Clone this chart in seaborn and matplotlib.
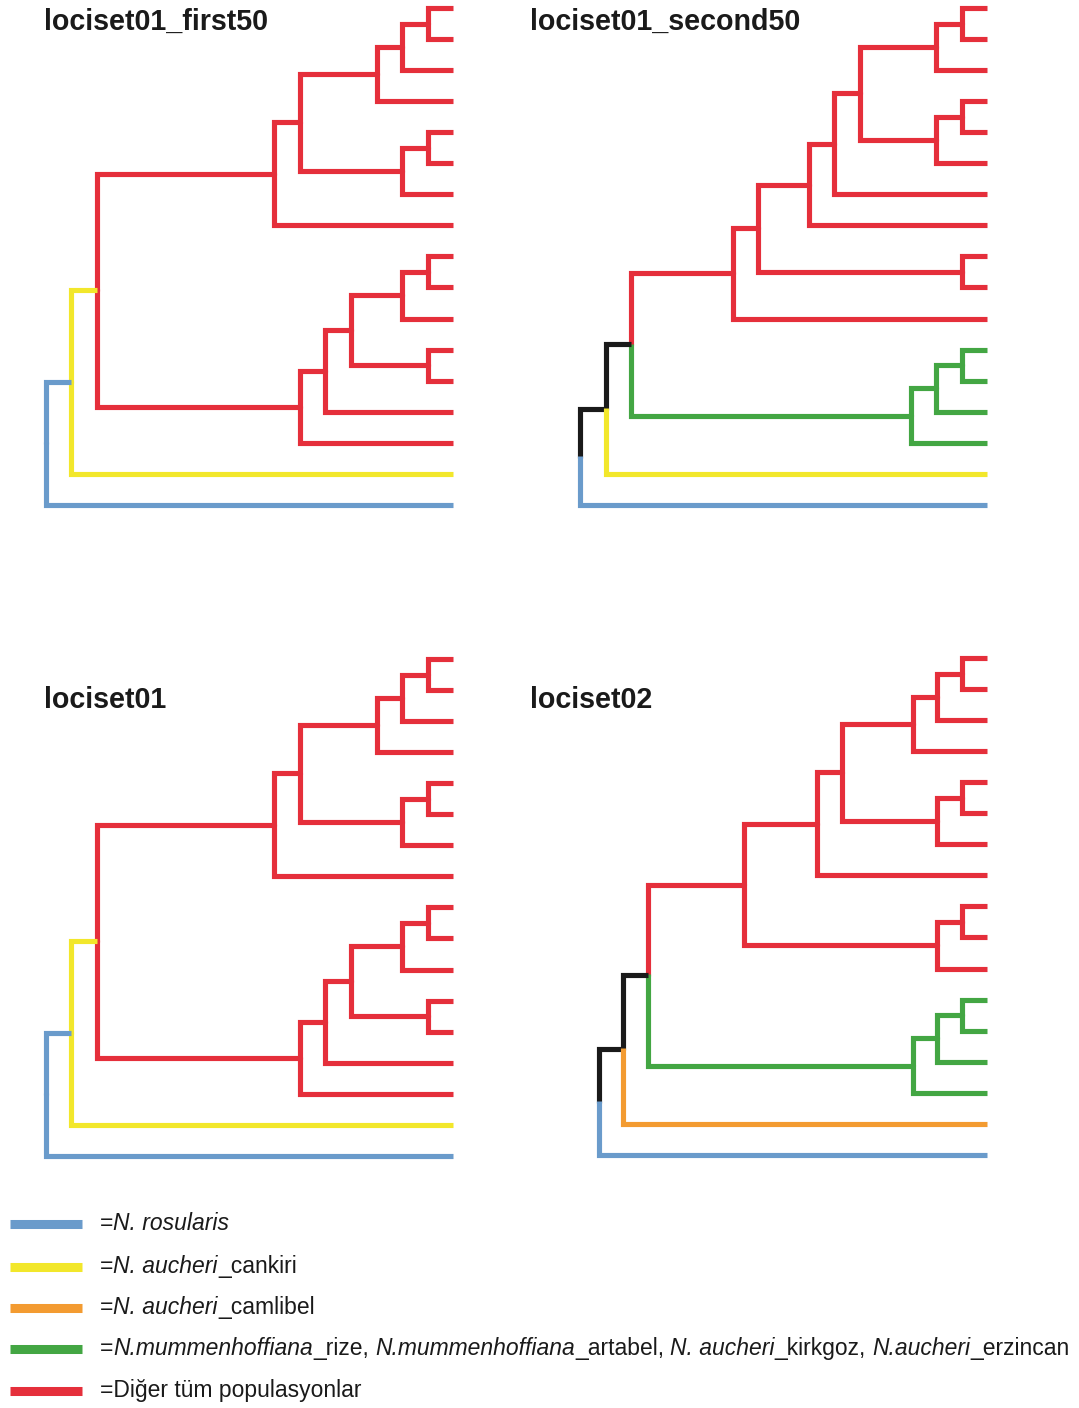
import matplotlib
matplotlib.use("Agg")
import matplotlib.pyplot as plt
import pandas as pd
import seaborn as sns

sns.set_theme(style="white")
plt.rcParams["font.family"] = ["Liberation Sans", "DejaVu Sans"]
plt.rcParams["lines.solid_joinstyle"] = "miter"
plt.rcParams["lines.solid_capstyle"] = "butt"

# ---- colour groups -------------------------------------------------------
group_keys = ["ros", "can", "cam", "mum", "oth", "mix"]
group_colors = ["#6A9BCB", "#F2E72B", "#F39B31", "#43A643", "#E52F3B", "#1A1A1A"]
# legend labels as (text, is_italic) runs
group_labels = [
    [("=", False), ("N. rosularis", True)],
    [("=", False), ("N. aucheri", True), ("_cankiri", False)],
    [("=", False), ("N. aucheri", True), ("_camlibel", False)],
    [("=", False), ("N.mummenhoffiana", True), ("_rize, ", False),
     ("N.mummenhoffiana", True), ("_artabel, ", False),
     ("N. aucheri", True), ("_kirkgoz, ", False),
     ("N.aucheri", True), ("_erzincan", False)],
    [("=Diğer tüm populasyonlar", False)],
]
palette = dict(zip(group_keys, group_colors))

# ---- trees: 17 leaves (ids 0-16), internal nodes get ids 17.. in merge order
# each merge: (child_a, child_b, node depth from root)
first50_tip = 407
first50_merges = [
    (0, 1, 382), (17, 2, 356), (18, 3, 331), (4, 5, 382), (20, 6, 356),
    (19, 21, 254), (22, 7, 228), (8, 9, 382), (24, 10, 356), (11, 12, 382),
    (25, 26, 305), (27, 13, 279), (28, 14, 254), (23, 29, 51), (30, 15, 25),
    (31, 16, 0),
]
first50_groups = [
    "oth", "oth", "oth", "oth", "oth", "oth", "oth", "oth", "oth", "oth",
    "oth", "oth", "oth", "oth", "oth", "can", "ros",
    "oth", "oth", "oth", "oth", "oth", "oth", "oth", "oth", "oth", "oth",
    "oth", "oth", "oth", "can", "ros",
]

second50_tip = 407
second50_merges = [
    (0, 1, 382), (17, 2, 356), (3, 4, 382), (19, 5, 356), (18, 20, 280),
    (21, 6, 254), (22, 7, 229), (8, 9, 382), (23, 24, 178), (25, 10, 153),
    (11, 12, 382), (27, 13, 356), (28, 14, 331), (26, 29, 51), (30, 15, 26),
    (31, 16, 0),
]
second50_groups = [
    "oth", "oth", "oth", "oth", "oth", "oth", "oth", "oth", "oth", "oth",
    "oth", "mum", "mum", "mum", "mum", "can", "ros",
    "oth", "oth", "oth", "oth", "oth", "oth", "oth", "oth", "oth", "oth",
    "mum", "mum", "mum", "mix", "mix",
]

lociset01_tip = 407
lociset01_merges = [
    (0, 1, 382), (17, 2, 356), (18, 3, 331), (4, 5, 382), (20, 6, 356),
    (19, 21, 254), (22, 7, 228), (8, 9, 382), (24, 10, 356), (11, 12, 382),
    (25, 26, 305), (27, 13, 279), (28, 14, 254), (23, 29, 51), (30, 15, 25),
    (31, 16, 0),
]
lociset01_groups = [
    "oth", "oth", "oth", "oth", "oth", "oth", "oth", "oth", "oth", "oth",
    "oth", "oth", "oth", "oth", "oth", "can", "ros",
    "oth", "oth", "oth", "oth", "oth", "oth", "oth", "oth", "oth", "oth",
    "oth", "oth", "oth", "can", "ros",
]

lociset02_tip = 388
lociset02_merges = [
    (0, 1, 363), (17, 2, 338), (18, 3, 314), (4, 5, 363), (20, 6, 338),
    (19, 21, 243), (22, 7, 218), (8, 9, 363), (24, 10, 338), (23, 25, 145),
    (11, 12, 363), (27, 13, 338), (28, 14, 314), (26, 29, 49), (30, 15, 24),
    (31, 16, 0),
]
lociset02_groups = [
    "oth", "oth", "oth", "oth", "oth", "oth", "oth", "oth", "oth", "oth",
    "oth", "mum", "mum", "mum", "mum", "cam", "ros",
    "oth", "oth", "oth", "oth", "oth", "oth", "oth", "oth", "oth", "oth",
    "mum", "mum", "mum", "mix", "mix",
]

N_LEAVES = 17
SEAM = 0.03  # small overlap so the two halves of a node bar join cleanly


def branch_table(merges, groups, tip):
    """Elbow segments: each child branch runs from the parent's node height
    along the parent's vertical bar and then across to the child."""
    xs = {i: tip for i in range(N_LEAVES)}
    ys = {i: float(i) for i in range(N_LEAVES)}
    rows = []
    bid = 0
    for k, (a, b, depth) in enumerate(merges):
        node = N_LEAVES + k
        ys[node] = (ys[a] + ys[b]) / 2.0
        xs[node] = depth
        for c, sign in ((a, 1), (b, -1)):
            pts = [(depth, ys[node] + sign * SEAM), (depth, ys[c]), (xs[c], ys[c])]
            for order, (px, py) in enumerate(pts):
                rows.append({"branch": bid, "order": order, "x": px, "y": py,
                             "group": groups[c]})
            bid += 1
    return pd.DataFrame(rows)


W, H = 1079, 1408
fig = plt.figure(figsize=(W / 100, H / 100), dpi=100)
fig.patch.set_facecolor("white")

SP = 31.05  # vertical spacing of leaves
panels = [
    ("lociset01_first50", first50_merges, first50_groups, first50_tip, 46, 8, 44, 30),
    ("lociset01_second50", second50_merges, second50_groups, second50_tip, 580, 8, 530, 30),
    ("lociset01", lociset01_merges, lociset01_groups, lociset01_tip, 46, 659, 44, 708),
    ("lociset02", lociset02_merges, lociset02_groups, lociset02_tip, 599, 658, 530, 708),
]

for title, merges, groups, tip, root_px, top_px, tx, ty in panels:
    top = top_px - 0.5 * SP
    ax = fig.add_axes([root_px / W, 1 - (top + 17 * SP) / H, tip / W, 17 * SP / H])
    df = branch_table(merges, groups, tip)
    sns.lineplot(data=df, x="x", y="y", units="branch", hue="group",
                 palette=palette, estimator=None, sort=False, legend=False,
                 linewidth=3.7, ax=ax)
    for ln in ax.get_lines():
        ln.set_clip_on(False)
        ln.set_solid_joinstyle("miter")
        ln.set_solid_capstyle("butt")
    ax.set_xlim(0, tip)
    ax.set_ylim(16.5, -0.5)
    ax.axis("off")
    fig.text(tx / W, 1 - ty / H, title, ha="left", va="baseline",
             fontsize=20.6, fontweight="bold", color="#1A1A1A")

# ---- legend ---------------------------------------------------------------
leg = fig.add_axes([0, 0, 1, 213 / H])
leg.set_xlim(0, W)
leg.set_ylim(1408, 1195)
leg.axis("off")
renderer = fig.canvas.get_renderer()
LEG_FS = 16.45


def run_advance(text, style):
    """Advance width (px) of a text run, spaces included."""
    probe = fig.text(0, 0, "|" + text + "|", fontsize=LEG_FS, style=style)
    bars = fig.text(0, 0, "||", fontsize=LEG_FS, style=style)
    w = probe.get_window_extent(renderer).width - bars.get_window_extent(renderer).width
    probe.remove()
    bars.remove()
    return w


legend_rows = [1224, 1267, 1308, 1349, 1391]
for y, key, runs in zip(legend_rows, group_keys[:5], group_labels):
    leg.plot([10, 82], [y, y], color=palette[key], linewidth=6.5,
             solid_capstyle="butt", clip_on=False)
    x = 100.0
    for text, italic in runs:
        style = "italic" if italic else "normal"
        leg.text(x, y + 6, text, ha="left", va="baseline", fontsize=LEG_FS,
                 style=style, color="#1A1A1A")
        x += run_advance(text, style)

fig.savefig("out.png", dpi=100, facecolor="white")
